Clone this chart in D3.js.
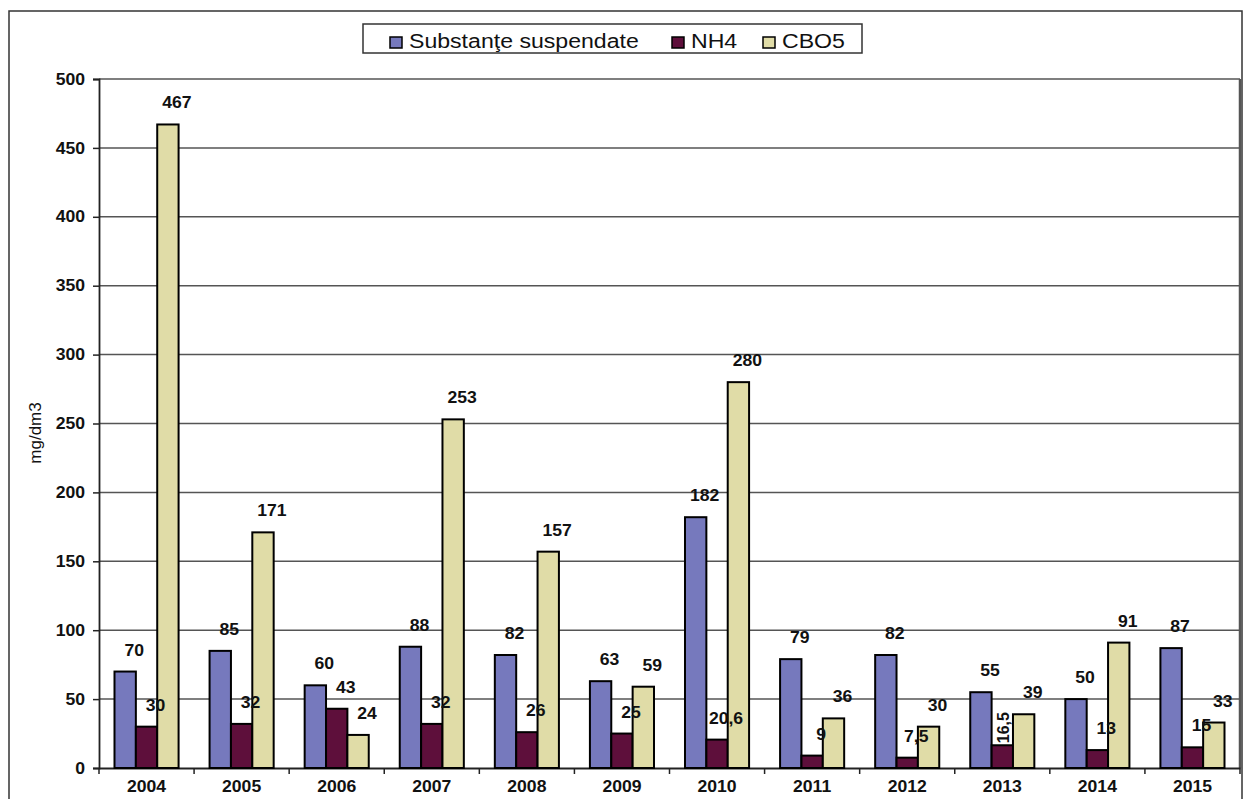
<!DOCTYPE html>
<html><head><meta charset="utf-8">
<script src="https://cdn.jsdelivr.net/npm/d3@7/dist/d3.min.js"></script>
<style>body{margin:0;background:#fff;}svg{display:block;font-family:Arial,"Liberation Sans",sans-serif;}</style>
</head><body><svg id="c" width="1245" height="799"></svg>
<script>
const years = ["2004","2005","2006","2007","2008","2009","2010","2011","2012","2013","2014","2015"];
const seriesNames = ["Substanţe suspendate","NH4","CBO5"];
const suspendate = [70,85,60,88,82,63,182,79,82,55,50,87];
const nh4 = [30,32,43,32,26,25,20.6,9,7.5,16.5,13,15];
const cbo5 = [467,171,24,253,157,59,280,36,30,39,91,33];
const yTicks = [0,50,100,150,200,250,300,350,400,450,500];
const colors = ["#7679bd","#5e0f3b","#e0dca7"];
const series = [suspendate, nh4, cbo5];

const svg = d3.select("#c");
const M = {left:99, right:1240, top:79, bottom:768};
const FF = "Arial,'Liberation Sans',sans-serif";
const SX = 1.1; // horizontal stretch of text as in reference

// outer frame
svg.append("rect").attr("x",9).attr("y",11).attr("width",1233).attr("height",800)
  .attr("fill","none").attr("stroke","#333").attr("stroke-width",1.5);

const x0 = d3.scaleBand().domain(years).range([M.left, M.right]).paddingInner(0).paddingOuter(0);
const inner = 0.674;
const x1 = d3.scaleBand().domain(d3.range(3)).range([0, x0.bandwidth()*inner]);
const off = x0.bandwidth()*(1-inner)/2;
const y = d3.scaleLinear().domain([0,500]).range([M.bottom, M.top]);

// gridlines
svg.append("g").selectAll("line").data(yTicks.filter(d=>d>0)).join("line")
  .attr("x1",M.left).attr("x2",M.right).attr("y1",d=>y(d)).attr("y2",d=>y(d))
  .attr("stroke","#555").attr("stroke-width",1.5);
// right border of plot area
svg.append("line").attr("x1",M.right).attr("x2",M.right).attr("y1",M.top).attr("y2",M.bottom)
  .attr("stroke","#555").attr("stroke-width",2.5);

// y axis
const ya = svg.append("g").attr("transform",`translate(${M.left},0)`)
  .call(d3.axisLeft(y).tickValues(yTicks).tickSize(6).tickPadding(0));
ya.select(".domain").attr("stroke","#222").attr("stroke-width",1.8);
ya.selectAll(".tick line").attr("stroke","#222").attr("stroke-width",1.5);
ya.selectAll("text").attr("x",0).attr("transform",`translate(-14,0) scale(${SX},1)`)
  .attr("font-size",16).attr("font-weight","bold").attr("fill","#111")
  .attr("font-family",FF);

// x axis
const xa = svg.append("g").attr("transform",`translate(0,${M.bottom})`)
  .call(d3.axisBottom(x0).tickSize(0).tickPadding(13));
xa.select(".domain").attr("stroke","#222").attr("stroke-width",1.8);
xa.selectAll("text").attr("transform",`scale(${SX},1)`).attr("font-size",16).attr("font-weight","bold").attr("fill","#111")
  .attr("font-family",FF);
svg.append("g").selectAll("line").data(d3.range(years.length+1)).join("line")
  .attr("x1",i=>M.left + i*x0.step()).attr("x2",i=>M.left + i*x0.step())
  .attr("y1",M.bottom).attr("y2",M.bottom+6).attr("stroke","#222").attr("stroke-width",1.5);

// bars
const fmt = v => String(v).replace(".",",");
series.forEach((vals, s) => {
  svg.append("g").selectAll("rect").data(vals).join("rect")
    .attr("x",(d,i)=>x0(years[i])+off+x1(s))
    .attr("y",d=>y(d))
    .attr("width",x1.bandwidth())
    .attr("height",d=>y(0)-y(d))
    .attr("fill",colors[s]).attr("stroke","#000").attr("stroke-width",2);
});
// labels
series.forEach((vals, s) => {
  svg.append("g").selectAll("text").data(vals).join("text")
    .attr("transform",(d,i)=>{
      const cx = x0(years[i])+off+x1(s)+x1.bandwidth()/2+9;
      const cy = y(d)-16;
      return (d===16.5) ? `translate(${cx-2},${cy+14}) rotate(-90)` : `translate(${cx},${cy}) scale(${SX},1)`;
    })
    .attr("text-anchor", d=> d===16.5 ? "start":"middle")
    .attr("font-size",16).attr("font-weight","bold").attr("fill","#111")
    .text(d=>fmt(d));
});

// y label
svg.append("text").attr("transform","translate(41,433) rotate(-90)")
  .attr("text-anchor","middle").attr("font-size",17).attr("fill","#111").text("mg/dm3");

// legend
const lg = svg.append("g");
lg.append("rect").attr("x",363).attr("y",24).attr("width",499).attr("height",29)
  .attr("fill","#fff").attr("stroke","#333").attr("stroke-width",1.5);
const lx = [390, 672, 763];
seriesNames.forEach((n,i)=>{
  lg.append("rect").attr("x",lx[i]).attr("y",37).attr("width",12).attr("height",11)
    .attr("fill",colors[i]).attr("stroke","#000").attr("stroke-width",1.5);
  lg.append("text").attr("transform",`translate(${lx[i]+19},48) scale(${SX},1)`)
    .attr("font-size",21).attr("fill","#111").text(n);
});
</script></body></html>
